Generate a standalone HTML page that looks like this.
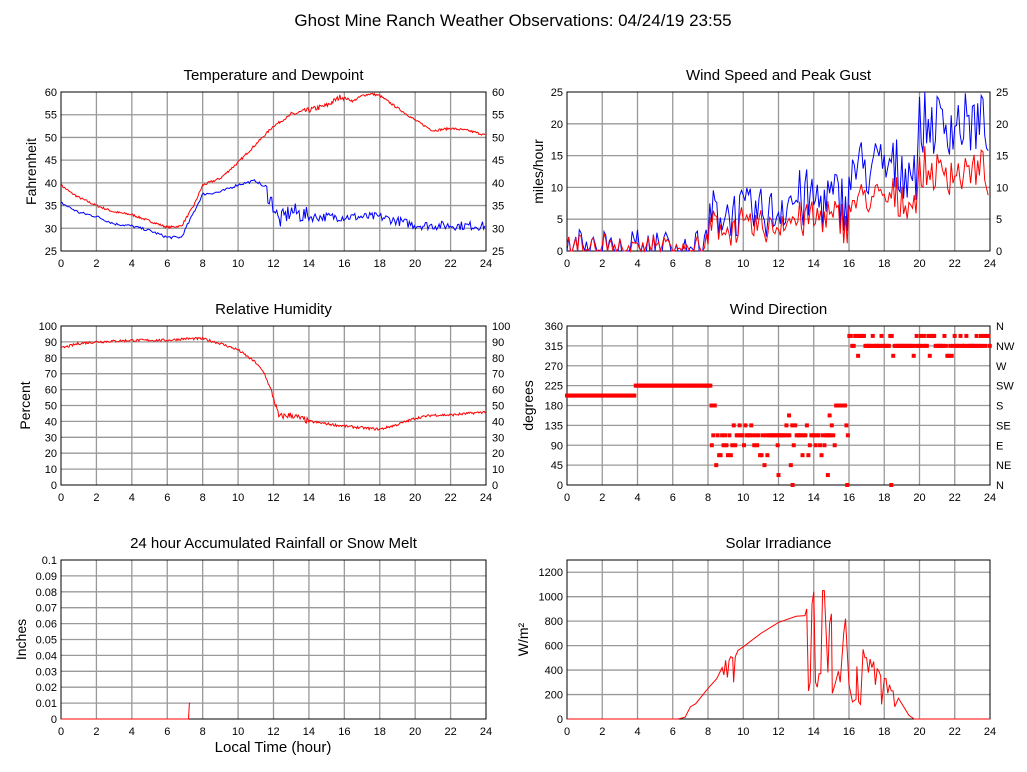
<!DOCTYPE html>
<html><head><meta charset="utf-8"><style>
body{margin:0;background:#fff;}
svg{display:block;font-family:"Liberation Sans",sans-serif;}
</style></head><body>
<svg id="s" width="1027" height="772" xmlns="http://www.w3.org/2000/svg"></svg>
<script>
var S=document.getElementById('s'),out='';
var seed=7;function rnd(){seed=(seed*16807)%2147483647;return seed/2147483647;}
function interp(k,h){for(var i=0;i<k.length-1;i++){if(h<=k[i+1][0]){var a=k[i],b=k[i+1];return a[1]+(b[1]-a[1])*(h-a[0])/(b[0]-a[0]);}}return k[k.length-1][1];}
function panel(p){
 var x0=p.x0,x1=p.x1,y0=p.y0,y1=p.y1,W=x1-x0,H=y1-y0;
 var g='';
 g+='<text x="'+((x0+x1)/2)+'" y="'+(y0-12)+'" font-size="15" text-anchor="middle">'+p.title+'</text>';
 for(var h=2;h<24;h+=2){var x=x0+W*h/24;g+='<line x1="'+x+'" y1="'+y0+'" x2="'+x+'" y2="'+y1+'" stroke="#999" stroke-width="1.3"/>';}
 for(var i=0;i<p.ticks.length;i++){var v=p.ticks[i],y=y1-H*(v-p.min)/(p.max-p.min);
  if(v>p.min&&v<p.max)g+='<line x1="'+x0+'" y1="'+y+'" x2="'+x1+'" y2="'+y+'" stroke="#999" stroke-width="1.3"/>';
  g+='<text x="'+(x0-4)+'" y="'+(y+4)+'" font-size="11" text-anchor="end">'+(p.lab?p.lab[i]:v)+'</text>';
  if(p.right)g+='<text x="'+(x1+6)+'" y="'+(y+4)+'" font-size="11">'+(p.rlab?p.rlab[i]:v)+'</text>';}
 for(var h=0;h<=24;h+=2){var x=x0+W*h/24;g+='<text x="'+x+'" y="'+(y1+16)+'" font-size="11" text-anchor="middle">'+h+'</text>';}
 g+='<text transform="translate('+p.yx+','+((y0+y1)/2)+') rotate(-90)" font-size="14" text-anchor="middle">'+p.ylab+'</text>';
 g+='<rect x="'+x0+'" y="'+y0+'" width="'+W+'" height="'+H+'" fill="none" stroke="#000" stroke-width="1"/>';
 p.series.forEach(function(s){
  if(s.pts){var d='';s.pts.forEach(function(q,j){var x=x0+W*q[0]/24,y=y1-H*(Math.max(p.min,Math.min(p.max,q[1]))-p.min)/(p.max-p.min);d+=(j?'L':'M')+x.toFixed(1)+' '+y.toFixed(1);});
   g+='<path d="'+d+'" fill="none" stroke="'+s.c+'" stroke-width="1"/>';}
  if(s.dots){s.dots.forEach(function(q){var x=x0+W*q[0]/24,y=y1-H*(q[1]-p.min)/(p.max-p.min);g+='<rect x="'+(x-2)+'" y="'+(y-2)+'" width="4" height="4" fill="red"/>';});}
 });
 out+=g;}
function gen(k,n,noise,step){var a=[];for(var h=0;h<=24;h+=step||0.05){a.push([h,interp(k,h)+(rnd()-0.5)*2*(typeof noise=='function'?noise(h):noise)]);}return a;}
function rng(a,b,s){var r=[];for(var v=a;v<=b+1e-9;v+=s)r.push(+v.toFixed(2));return r;}
var L=61,R=486,L2=567,R2=990;
var tk=[[0,39.5],[.5,38],[1,36.8],[2,35],[3,33.6],[4,33],[5,31.6],[6,30.2],[6.8,30.5],[7.5,35],[8,39.5],[9,41],[10,44.5],[11,48.5],[12,52.5],[13,55],[14,56],[15,57],[15.8,59],[16.5,58],[17,59.2],[17.5,59.6],[18,59.2],[19,56.5],[20,53.8],[21,51.5],[22,52],[23,51.5],[24,50.5]];
var dk=[[0,35.6],[1,33.5],[2,32.6],[3,31],[4,30.5],[5,29.5],[6,28],[6.8,28],[8,37.5],[9,38],[10,39.6],[11,40.5],[11.5,39],[12,35],[12.3,31.5],[13,33.8],[14,32.5],[16,32.5],[18,32.5],[19,31.6],[20,30.7],[21,30.6],[22,30.6],[24,30.5]];
panel({x0:L,x1:R,y0:92,y1:251,min:25,max:60,ticks:rng(25,60,5),right:1,title:'Temperature and Dewpoint',ylab:'Fahrenheit',yx:36,
 series:[{c:'red',pts:gen(tk,0,function(h){return h>13&&h<16?0.6:0.25;})},{c:'blue',pts:gen(dk,0,function(h){return h>11.5&&h<14?2:h>11.5?1:0.3;},0.07)}]});
var gust=[],spd=[];for(var h=0;h<=24;h+=0.1){var base=h<8?1.5:h<12?6:h<16?8:h<20?13:20;var amp=h<8?2:h<12?4:5;var g=Math.max(0,base+(rnd()-0.5)*2*amp);if(h<8&&rnd()<0.35)g=0;gust.push([h,Math.min(25,g)]);spd.push([h,Math.max(0,g*0.62+(rnd()-0.5)*2)]);}
panel({x0:L2,x1:R2,y0:92,y1:251,min:0,max:25,ticks:rng(0,25,5),right:1,title:'Wind Speed and Peak Gust',ylab:'miles/hour',yx:543,
 series:[{c:'blue',pts:gust},{c:'red',pts:spd}]});
var rk=[[0,86],[1,89],[2,90],[4,91],[6,91],[7,92],[8,92],[9,89],[10,85],[11,77],[11.5,70],[12,55],[12.3,43],[13,44],[14,40],[16,37],[18,35],[19,38],[20,42],[21,44],[22,44],[24,46]];
panel({x0:L,x1:R,y0:326,y1:485,min:0,max:100,ticks:rng(0,100,10),right:1,title:'Relative Humidity',ylab:'Percent',yx:30,
 series:[{c:'red',pts:gen(rk,0,function(h){return h>11.8&&h<14?2:0.8;})}]});
var dots=[];for(var h=0;h<=24;h+=0.083){var v;if(h<3.9)v=202.5;else if(h<8.2)v=225;else if(h<16){var r=rnd();v=r<0.55?112.5:r<0.75?90:r<0.85?67.5:r<0.92?135:r<0.96?45:180;if(h>15.3&&h<15.8)v=180;}else{var r=rnd();v=r<0.6?315:r<0.9?337.5:292.5;}dots.push([h,v]);}
dots.push([12.8,0],[15.9,0],[18.4,0],[8.2,180],[12,22.5],[14.8,22.5],[12.6,157.5],[14.9,157.5]);
panel({x0:L2,x1:R2,y0:326,y1:485,min:0,max:360,ticks:rng(0,360,45),right:1,rlab:['N','NE','E','SE','S','SW','W','NW','N'],title:'Wind Direction',ylab:'degrees',yx:533,series:[{dots:dots}]});
panel({x0:L,x1:R,y0:560,y1:719,min:0,max:0.1,ticks:rng(0,0.1,0.01),lab:['0','0.01','0.02','0.03','0.04','0.05','0.06','0.07','0.08','0.09','0.1'],title:'24 hour Accumulated Rainfall or Snow Melt',ylab:'Inches',yx:26,
 series:[{c:'red',pts:[[0,0],[7.2,0],[7.25,0.01],[7.3,0.01]]}]});
out+='<text x="273" y="752" font-size="15" text-anchor="middle">Local Time (hour)</text>';
var sk=[[0,0],[6.3,0],[6.7,15],[7,100],[7.3,125],[8,250],[8.5,330],[8.8,420],[8.9,360],[9,480],[9.1,340],[9.2,480],[9.3,510],[9.4,500],[9.45,300],[9.55,510],[9.7,560],[10,590],[11,700],[12,790],[13,840],[13.5,845],[13.6,900],[13.7,230],[13.8,300],[13.9,940],[14,1040],[14.1,300],[14.2,260],[14.3,370],[14.4,370],[14.5,1050],[14.6,1050],[14.8,380],[14.9,780],[15,860],[15.05,210],[15.2,280],[15.4,390],[15.5,300],[15.7,700],[15.8,820],[16,280],[16.2,140],[16.4,160],[16.45,430],[16.55,140],[16.65,120],[16.8,570],[16.9,500],[17,500],[17.1,380],[17.2,490],[17.3,420],[17.4,470],[17.5,280],[17.6,410],[17.7,390],[17.8,350],[17.85,120],[18,330],[18.1,330],[18.2,210],[18.3,280],[18.4,230],[18.5,230],[18.6,100],[18.8,170],[19.4,30],[19.7,0],[24,0]];
panel({x0:L2,x1:R2,y0:560,y1:719,min:0,max:1300,ticks:rng(0,1200,200),title:'Solar Irradiance',ylab:'W/m\u00B2',yx:528,series:[{c:'red',pts:sk}]});
out+='<text x="513" y="26" font-size="17" text-anchor="middle">Ghost Mine Ranch Weather Observations: 04/24/19 23:55</text>';
S.innerHTML=out;
</script>
</body></html>
